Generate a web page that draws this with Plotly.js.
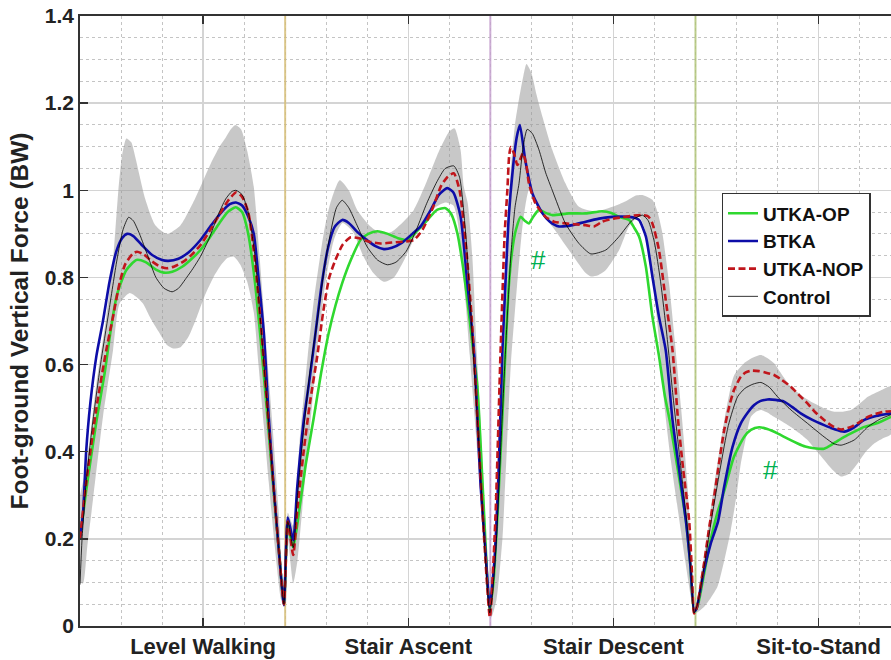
<!DOCTYPE html>
<html>
<head>
<meta charset="utf-8">
<script src="https://cdn.plot.ly/plotly-3.0.1.min.js"></script>
<style>html,body{margin:0;padding:0;background:#fff;}#chart{width:891px;height:660px;}</style>
</head>
<body>
<div id="chart"></div>
<script>
// ---------------- DATA ----------------
const taskLabels = ["Level Walking", "Stair Ascent", "Stair Descent", "Sit-to-Stand"];
const taskTickX = [60, 160, 260, 360];
const taskBoundaryX = [100, 200, 300];
const seriesNames = ["UTKA-OP", "BTKA", "UTKA-NOP", "Control"];

// UTKA-OP (green)
const opX = [0,3,8,12,15,18,22.6,27.5,32,37,40.8,45,50,55,58.7,63,68,72,75.9,79,82,85,88,91,94,97,99.4,
  101.3,103.9,107,110,113.9,117.5,121.2,124.5,127.8,132,136.7,140.5,144.9,150,155,159.5,164,169,174,178.2,181,184,186.5,188.8,191.2,193.7,196.5,199.7,
  201.5,204,207.4,209,210.7,212.5,214.8,216.8,218.8,221,223.7,227,230.2,238.3,246.5,254.6,259,262.8,267.6,270,272.5,275.8,279,282.2,285,287.5,291,295.3,297.5,299.3,
  301,304.2,307.5,310.7,314,318.8,323.7,327,331,335,340,344.9,349.8,353.5,357.8,362.7,367,372.5,377,382.3,388.8,395.3];
const opY = [0.2,0.31,0.47,0.58,0.68,0.76,0.817,0.84,0.835,0.818,0.811,0.813,0.825,0.845,0.863,0.89,0.925,0.95,0.961,0.95,0.9,0.8,0.66,0.5,0.33,0.17,0.05,
  0.23,0.18,0.27,0.37,0.477,0.58,0.672,0.735,0.787,0.84,0.886,0.9,0.906,0.9,0.89,0.886,0.905,0.93,0.955,0.959,0.945,0.9,0.83,0.748,0.65,0.549,0.3,0.04,
  0.1,0.3,0.633,0.78,0.863,0.91,0.939,0.93,0.924,0.94,0.955,0.948,0.943,0.947,0.947,0.952,0.948,0.939,0.932,0.915,0.894,0.825,0.71,0.62,0.53,0.47,0.37,0.243,0.14,0.033,
  0.045,0.12,0.2,0.26,0.31,0.389,0.434,0.45,0.456,0.452,0.442,0.43,0.419,0.412,0.408,0.407,0.418,0.434,0.445,0.457,0.466,0.48];

// BTKA (blue)
const btX = [0,1.5,3,5,8,11.2,14.4,17.7,20.5,23,26,30,35,40,43,48,53,58.7,64,69,73,76,79,82,84.7,87,89.6,92,94.4,97.7,99.4,
  101.3,103.9,105.9,109.1,112,115,118,121,124,127.8,131,135,140,144,148.1,152,157,162,166,171,175,179,182,185.5,188.8,192,195.3,197.7,199.7,
  202,204,205.9,207.5,209,211,212.8,214.4,217,220.5,225.4,229,233.5,240,246.5,253,259.5,264,267.6,270.5,272.5,275.8,279,282.2,285.5,288.8,292,295.3,297.5,299.4,
  300.5,304.2,307.5,311,314,318,322.1,325.5,328.6,331.5,335.1,339,343.2,347,351.3,357,362.7,367.5,372.5,377,382.3,388,395.3];
const btY = [0.2,0.26,0.4,0.51,0.62,0.7,0.79,0.86,0.89,0.9,0.895,0.875,0.852,0.84,0.838,0.843,0.858,0.886,0.92,0.95,0.968,0.972,0.965,0.94,0.9,0.8,0.672,0.48,0.32,0.129,0.048,
  0.249,0.197,0.32,0.473,0.57,0.68,0.79,0.87,0.915,0.932,0.925,0.905,0.885,0.872,0.865,0.868,0.88,0.9,0.917,0.955,0.99,1.005,0.995,0.94,0.787,0.633,0.32,0.167,0.044,
  0.15,0.35,0.633,0.8,0.94,1.05,1.12,1.15,1.07,0.993,0.947,0.928,0.917,0.92,0.928,0.935,0.939,0.94,0.939,0.937,0.932,0.894,0.802,0.71,0.633,0.473,0.36,0.243,0.14,0.033,
  0.04,0.129,0.19,0.24,0.32,0.41,0.465,0.49,0.507,0.516,0.52,0.519,0.515,0.503,0.488,0.473,0.461,0.452,0.446,0.455,0.473,0.482,0.488];

// UTKA-NOP (dark red dashed)
const nopX = [0,3,8,12.8,16.1,19.3,22,25.8,27.8,31,35,39,42.4,46,50,54,58.7,63,68,72,76,79,82,85,88,91,94,97,99.4,
  101.3,103.9,106,109,112,115.6,118.5,121.5,124.5,128,131.9,136,141,146.5,152,157,162.7,167,172,176,179,182.2,185,188,191,194,197,199.8,
  202.5,205,207,208.3,209.2,210,211.5,213.2,214.5,215.9,217.5,218.8,222,226.9,231,236.6,241,246.5,250.5,254.6,260,266,270,274.1,277,279,282.2,285.5,288.8,291.5,294,296.9,298.3,299.3,
  300.5,304.2,306.5,309.1,311.5,314,316.5,318.8,322.1,324.5,327,331,334,338.3,342,346.5,350.5,354.6,358.5,362.7,367,371,375.8,380,384,388,392.1,395.3];
const nopY = [0.2,0.327,0.5,0.633,0.71,0.787,0.83,0.855,0.859,0.853,0.837,0.825,0.821,0.825,0.835,0.85,0.874,0.905,0.945,0.975,0.995,0.985,0.95,0.85,0.7,0.52,0.34,0.17,0.05,
  0.24,0.163,0.27,0.4,0.51,0.618,0.72,0.8,0.84,0.875,0.892,0.89,0.882,0.878,0.88,0.882,0.886,0.91,0.96,1.01,1.03,1.039,1.0,0.88,0.7,0.45,0.2,0.02,
  0.25,0.633,0.9,1.0,1.08,1.099,1.085,1.058,1.07,1.085,1.06,1.016,0.97,0.939,0.928,0.924,0.922,0.92,0.917,0.928,0.935,0.939,0.942,0.943,0.94,0.924,0.863,0.748,0.633,0.473,0.36,0.243,0.12,0.029,
  0.04,0.144,0.22,0.297,0.375,0.45,0.505,0.542,0.572,0.582,0.586,0.585,0.582,0.576,0.565,0.549,0.53,0.511,0.49,0.473,0.458,0.451,0.457,0.468,0.48,0.487,0.492,0.493];

// Control (black thin)
const ctlX = [0,1,3,6,10,14,18,21,23.7,26,29,33,37,41,44.9,48,52,55,58.7,63,67,71,74,76,79,82,85,88,91,94,97,99.4,
  101.3,103.9,106,109,112,115.6,119,122,125,127.8,131,135,140,145,149.8,154,159,164,169,174,178,182.2,185,188,191,194,197,199.7,
  201,203,205,207.4,210,212,214,216,218,220.5,223.7,227,230.2,236.6,243.2,249,256.3,262.8,269.3,274.1,277,280,283,286,289,292,295.5,298,299.3,
  301,304,308,312,316,320.5,324,328,331.9,336,340,346.5,354.6,362.7,367.6,371,377.4,384,390,395.3];
const ctlY = [0.095,0.2,0.33,0.46,0.6,0.72,0.84,0.91,0.938,0.93,0.9,0.85,0.8,0.775,0.767,0.775,0.8,0.82,0.848,0.89,0.94,0.98,0.997,1.0,0.99,0.95,0.86,0.7,0.52,0.34,0.17,0.05,
  0.24,0.18,0.3,0.45,0.58,0.7,0.82,0.9,0.96,0.977,0.96,0.92,0.87,0.84,0.829,0.835,0.86,0.91,0.97,1.02,1.05,1.056,1.03,0.9,0.68,0.45,0.2,0.03,
  0.07,0.2,0.4,0.633,0.85,0.96,1.016,1.1,1.14,1.13,1.093,1.04,1.0,0.924,0.878,0.854,0.863,0.894,0.932,0.943,0.93,0.88,0.79,0.67,0.53,0.4,0.25,0.11,0.03,
  0.05,0.13,0.25,0.36,0.46,0.526,0.545,0.555,0.559,0.548,0.526,0.496,0.465,0.434,0.418,0.415,0.427,0.457,0.475,0.485];

// Control band (mean +/- SD), upper and lower edges
const bandUpX = [0,3,8,12.8,16.1,18.7,20.5,22.6,25,27,31.8,36.7,42.4,49,56,63.6,68,70.9,73.5,75.8,78.5,81.5,84.7,88,91.2,94,97,99.4,
  100.5,101.3,103.9,107,111,114,118.8,122,126.6,131,135.1,141.6,147,152,157,162.7,169,175,180,182.6,185.5,187.1,189,191.2,193.5,196,198.5,200,
  201,203,205,206.5,208,210,212,214,216,217.6,220,222.5,225.4,230.2,236.6,243.2,251.4,259.5,266,271,274.1,279,281.5,283.9,287.1,290,293,296,298.5,299.6,
  300.5,302,304.2,309,314,318.8,323.7,327.5,331.9,335,338.3,342,346.5,352,357.8,362.5,367.6,371.5,375.8,380,384,390,395.3];
const bandUpY = [0.3,0.366,0.557,0.71,0.84,1.0,1.08,1.119,1.11,1.075,0.98,0.92,0.9,0.92,0.98,1.06,1.1,1.12,1.14,1.15,1.14,1.09,1.008,0.82,0.62,0.45,0.25,0.07,
  0.15,0.26,0.23,0.42,0.62,0.748,0.901,0.97,1.023,1.0,0.955,0.917,0.9,0.905,0.925,0.955,1.02,1.09,1.135,1.142,1.093,1.008,0.97,0.85,0.62,0.4,0.15,0.03,
  0.06,0.3,0.55,0.75,0.9,1.05,1.15,1.21,1.26,1.29,1.27,1.22,1.169,1.093,1.016,0.962,0.951,0.962,0.975,0.988,0.989,0.978,0.95,0.901,0.787,0.65,0.5,0.33,0.12,0.04,
  0.05,0.1,0.16,0.32,0.47,0.575,0.603,0.615,0.622,0.615,0.603,0.578,0.549,0.528,0.511,0.5,0.492,0.492,0.496,0.51,0.526,0.54,0.55];
const bandLoX = [0,1.5,3.5,6.3,11.2,16.1,19.3,24.2,27.5,30.7,34.5,38.8,42.4,45.4,49,53,57,61,65,69,72,74.9,78,81.5,84.7,87,89.6,92,95,98,99.4,
  100.5,101.3,103.9,106,108,112,116,120,124,128,133,138,143,148,153,158,163,168,173,178,182,184,186,188,190,192,194,197,199.7,
  200.5,203,205.9,207,208,210,213,216,218.8,221,223.7,230.2,238.3,246.5,249,252.5,256.3,262.8,267.6,272.5,276,279,282.2,285,288,291,295,298,299.3,
  300.5,304.2,307.5,310.7,314,317.2,320,322.1,324.5,327,329.5,331.9,335,338.3,342,346.5,350.5,354.6,358.5,362.7,366.5,371,375,379,383,387.1,391,395.3];
const bandLoY = [0.1,0.098,0.18,0.289,0.48,0.633,0.74,0.764,0.755,0.74,0.705,0.672,0.645,0.637,0.64,0.665,0.71,0.76,0.8,0.83,0.845,0.848,0.83,0.79,0.72,0.6,0.46,0.33,0.18,0.06,0.045,
  0.06,0.2,0.098,0.15,0.25,0.45,0.65,0.8,0.89,0.925,0.905,0.85,0.81,0.79,0.8,0.84,0.89,0.93,0.96,0.972,0.965,0.93,0.85,0.74,0.62,0.5,0.38,0.18,0.02,
  0.02,0.06,0.2,0.3,0.4,0.6,0.78,0.93,1.0,0.98,0.955,0.917,0.863,0.81,0.802,0.805,0.817,0.863,0.917,0.939,0.9,0.8,0.66,0.5,0.38,0.28,0.15,0.06,0.03,
  0.03,0.044,0.065,0.09,0.15,0.22,0.3,0.373,0.43,0.48,0.492,0.496,0.49,0.48,0.47,0.457,0.443,0.427,0.405,0.381,0.36,0.343,0.35,0.373,0.4,0.419,0.43,0.44];

// significance markers (#)
const sigX = [223.7, 336.7];
const sigY = [0.84, 0.358];
const sigText = ["#", "#"];

const yMax = 1.4;

// ---------------- STYLE / BUILD ----------------
const FONT = "Liberation Sans, Arial, Helvetica, sans-serif";
const bandX = bandUpX.concat(bandLoX.slice().reverse());
const bandY = bandUpY.concat(bandLoY.slice().reverse());
const boundaryColors = ["rgba(214,190,120,0.85)", "rgba(196,160,206,0.85)", "rgba(176,196,120,0.85)"];

const traces = [];
traces.push({
  x: bandX, y: bandY, type: "scatter", mode: "lines", fill: "toself",
  fillcolor: "rgba(150,150,150,0.52)", line: {width: 0, shape: "spline", smoothing: 0.6},
  showlegend: false, hoverinfo: "skip"
});
taskBoundaryX.forEach((bx, i) => {
  traces.push({
    x: [bx, bx], y: [0, yMax], type: "scatter", mode: "lines",
    line: {color: boundaryColors[i], width: 2}, showlegend: false, hoverinfo: "skip"
  });
});
const lineDefs = [
  {x: opX, y: opY, color: "#2fd82f", width: 2.6, dash: "solid"},
  {x: btX, y: btY, color: "#0d0da8", width: 2.6, dash: "solid"},
  {x: nopX, y: nopY, color: "#c0161c", width: 2.6, dash: "7px,3.5px"},
  {x: ctlX, y: ctlY, color: "#000000", width: 0.8, dash: "solid"}
];
lineDefs.forEach((d, i) => {
  traces.push({
    x: d.x, y: d.y, type: "scatter", mode: "lines", name: seriesNames[i],
    line: {color: d.color, width: d.width, dash: d.dash, shape: "spline", smoothing: 0.6}
  });
});

const annotations = sigX.map((x, i) => ({
  x: x, y: sigY[i], xref: "x", yref: "y", text: sigText[i], showarrow: false,
  font: {family: FONT, size: 26, color: "#00b050"}
}));

const layout = {
  width: 891, height: 660,
  margin: {l: 80, r: 0, t: 16, b: 34},
  paper_bgcolor: "#ffffff", plot_bgcolor: "#ffffff",
  showlegend: true,
  legend: {
    x: 0.791, y: 0.71, xanchor: "left", yanchor: "top",
    bgcolor: "#ffffff", bordercolor: "#333333", borderwidth: 1.5,
    font: {family: FONT, size: 19, color: "#111", weight: "bold"},
    tracegroupgap: 0
  },
  xaxis: {
    range: [0, 395.3], tickmode: "array", tickvals: taskTickX, ticktext: taskLabels,
    ticks: "inside", ticklen: 8, tickwidth: 1.5, tickcolor: "#333",
    showline: true, linecolor: "#333", linewidth: 1.8, mirror: "ticks",
    showgrid: true, gridcolor: "#d4d4d4", gridwidth: 1.5,
    minor: {tickmode: "linear", tick0: 0, dtick: 20, showgrid: true, gridcolor: "#c4c4c4", griddash: "dot", gridwidth: 1, ticks: ""},
    zeroline: false,
    tickfont: {family: FONT, size: 22, color: "#222", weight: "bold"}
  },
  yaxis: {
    range: [0, yMax], tickmode: "linear", tick0: 0, dtick: 0.2,
    ticks: "inside", ticklen: 8, tickwidth: 1.5, tickcolor: "#333",
    showline: true, linecolor: "#333", linewidth: 1.8,
    showgrid: true, gridcolor: "#d4d4d4", gridwidth: 1.5,
    minor: {tickmode: "linear", tick0: 0, dtick: 0.05, showgrid: true, gridcolor: "#c4c4c4", griddash: "dot", gridwidth: 1, ticks: ""},
    zeroline: false, automargin: true,
    tickfont: {family: FONT, size: 21, color: "#222", weight: "bold"},
    title: {text: "Foot-ground Vertical Force (BW)", standoff: 9, font: {family: FONT, size: 24.5, color: "#222", weight: "bold"}}
  },
  annotations: annotations
};

Plotly.newPlot("chart", traces, layout, {displayModeBar: false, staticPlot: true});
</script>
</body>
</html>
